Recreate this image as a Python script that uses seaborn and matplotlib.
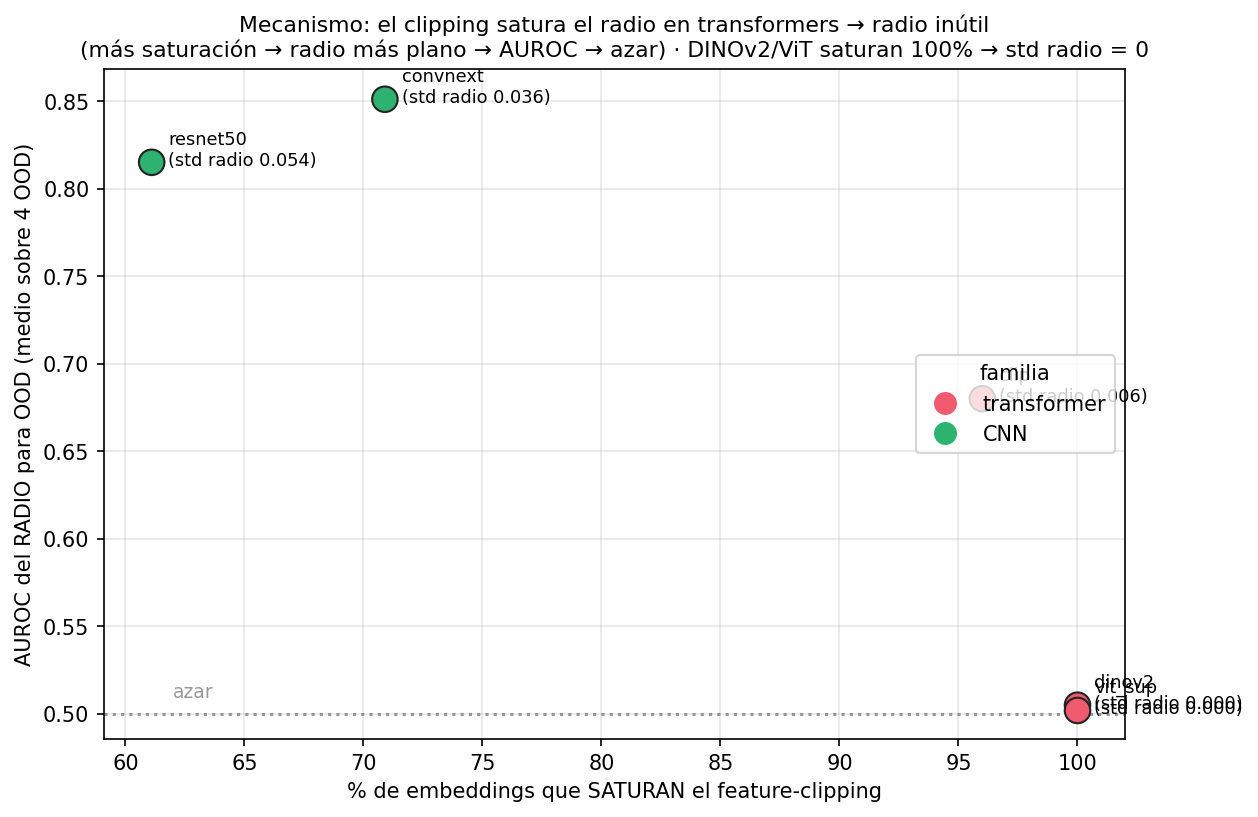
import seaborn as sns
import pandas as pd
import matplotlib.pyplot as plt

modelos = ['resnet50', 'convnext', 'clip', 'dinov2', 'vit_sup']
familia = ['CNN', 'CNN', 'transformer', 'transformer', 'transformer']
saturan = [61.1, 70.9, 96.0, 100.0, 100.0]
auroc = [0.815, 0.851, 0.680, 0.505, 0.502]
std_radio = [0.054, 0.036, 0.006, 0.000, 0.000]

df = pd.DataFrame({'modelo': modelos, 'familia': familia,
                   'saturan': saturan, 'auroc': auroc, 'std': std_radio})

fig, ax = plt.subplots(figsize=(8.39, 5.45), dpi=150)

sns.scatterplot(data=df, x='saturan', y='auroc', hue='familia',
                hue_order=['transformer', 'CNN'],
                palette={'transformer': '#f05a6e', 'CNN': '#2db36f'},
                s=150, edgecolor='#222222', linewidth=1.0, ax=ax, zorder=3)

for _, r in df.iterrows():
    ax.annotate(f"{r['modelo']}\n(std radio {r['std']:.3f})",
                (r['saturan'], r['auroc']), xytext=(8, 6),
                textcoords='offset points', va='center', fontsize=8.5)

ax.axhline(0.5, color='gray', linestyle=':', alpha=0.8)
ax.text(62, 0.5095, 'azar', color='gray', alpha=0.8, fontsize=9)

ax.set_xlim(59.1, 102)
ax.set_ylim(0.4857, 0.868)
ax.grid(alpha=0.3)
ax.set_xlabel('% de embeddings que SATURAN el feature-clipping')
ax.set_ylabel('AUROC del RADIO para OOD (medio sobre 4 OOD)')
ax.set_title('Mecanismo: el clipping satura el radio en transformers → radio inútil\n'
             '(más saturación → radio más plano → AUROC → azar) · DINOv2/ViT saturan 100% → std radio = 0',
             fontsize=10.5)
leg = ax.legend(title='familia', loc='center right', markerscale=0.9)
for h in leg.legend_handles:
    h.set_markeredgecolor('none')

fig.subplots_adjust(left=0.0827, right=0.894, top=0.9144, bottom=0.0954)
fig.savefig('out.png')
